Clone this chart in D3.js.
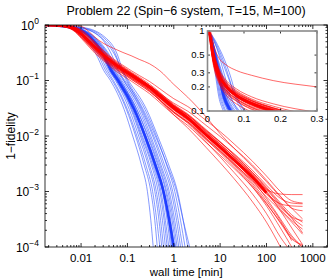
<!DOCTYPE html>
<html lang="en">
<head>
  <meta charset="UTF-8">
  <title>Problem 22</title>
  <script src="https://cdn.jsdelivr.net/npm/d3@7"></script>
  <style>
    body { margin: 0; background: #fff; }
    text { font-family: "Liberation Sans", Arial, sans-serif; fill: #000; }
  </style>
</head>
<body>
  <svg id="chart"></svg>
<script>
  const width = 332, height = 278;

  // axis ticks
  const xTicks = [0.01, 0.1, 1, 10, 100, 1000];
  const xTickLabels = ['0.01', '0.1', '1', '10', '100', '1000'];
  const yTicks = [1, 0.1, 0.01, 0.001, 0.0001];
  const yTickExp = ['0', '\u22121', '\u22122', '\u22123', '\u22124'];
  const insetXTicks = [0, 0.1, 0.2, 0.3];
  const insetYTicks = [0.1, 0.2, 0.3, 0.5, 1];

  // blue runs: wall time [min] at which each run reaches these 1-fidelity levels
  const blueLevels = [1, 0.9, 0.6, 0.3, 0.15, 0.1, 0.03, 0.01, 0.003, 0.001, 3e-4, 1e-4];
  const blueMedian = [0.0017, 0.0065, 0.016, 0.03, 0.045, 0.063, 0.14, 0.24, 0.4, 0.6, 0.8, 1.0];
  const blueRuns = [
    [0.0017, 0.005, 0.011, 0.021, 0.031, 0.043, 0.085, 0.13, 0.2, 0.27, 0.32, 0.36],
    [0.0017, 0.0055, 0.012, 0.023, 0.034, 0.047, 0.095, 0.15, 0.23, 0.32, 0.39, 0.44],
    [0.0017, 0.006, 0.014, 0.025, 0.037, 0.05, 0.1, 0.16, 0.25, 0.35, 0.43, 0.5],
    [0.0017, 0.0058, 0.013, 0.027, 0.04, 0.055, 0.11, 0.175, 0.28, 0.39, 0.48, 0.55],
    [0.0017, 0.007, 0.017, 0.03, 0.043, 0.058, 0.12, 0.19, 0.3, 0.42, 0.52, 0.6],
    [0.0017, 0.006, 0.015, 0.028, 0.042, 0.058, 0.125, 0.2, 0.33, 0.46, 0.57, 0.66],
    [0.0017, 0.0065, 0.016, 0.031, 0.046, 0.062, 0.13, 0.21, 0.35, 0.5, 0.62, 0.72],
    [0.0017, 0.007, 0.018, 0.034, 0.05, 0.066, 0.14, 0.225, 0.37, 0.53, 0.66, 0.78],
    [0.0017, 0.0062, 0.015, 0.029, 0.044, 0.062, 0.14, 0.235, 0.39, 0.57, 0.72, 0.85],
    [0.0017, 0.0068, 0.017, 0.032, 0.048, 0.066, 0.15, 0.25, 0.42, 0.62, 0.8, 0.93],
    [0.0017, 0.0075, 0.019, 0.036, 0.053, 0.072, 0.16, 0.27, 0.45, 0.67, 0.86, 1.02],
    [0.0017, 0.0064, 0.016, 0.031, 0.048, 0.068, 0.16, 0.28, 0.47, 0.7, 0.92, 1.1],
    [0.0017, 0.007, 0.018, 0.035, 0.054, 0.076, 0.175, 0.3, 0.5, 0.75, 0.98, 1.18],
    [0.0017, 0.009, 0.026, 0.045, 0.064, 0.084, 0.19, 0.32, 0.53, 0.8, 1.05, 1.28],
    [0.0017, 0.0072, 0.019, 0.038, 0.058, 0.082, 0.2, 0.35, 0.58, 0.88, 1.15, 1.4],
    [0.0017, 0.01, 0.03, 0.055, 0.075, 0.095, 0.21, 0.37, 0.63, 0.95, 1.25, 1.55],
    [0.0017, 0.011, 0.033, 0.06, 0.08, 0.1, 0.24, 0.42, 0.7, 1.05, 1.4, 1.75],
    [0.0017, 0.009, 0.027, 0.052, 0.078, 0.105, 0.26, 0.45, 0.78, 1.2, 1.6, 2.0],
    [0.0017, 0.0078, 0.02, 0.04, 0.062, 0.088, 0.22, 0.4, 0.72, 1.15, 1.6, 2.2],
    [0.0017, 0.0066, 0.017, 0.033, 0.05, 0.07, 0.15, 0.245, 0.4, 0.58, 0.76, 0.9]
  ];

  // red runs: 1-fidelity sampled at these wall times [min]
  const redTimes = [0.0017, 0.004, 0.007, 0.01, 0.015, 0.02, 0.03, 0.05, 0.08, 0.12, 0.18, 0.3,
    0.5, 1, 2, 5, 10, 20, 50, 100, 200, 350, 600];
  const redMedian = [1.0, 0.97, 0.86, 0.7, 0.5, 0.4, 0.29, 0.205, 0.155, 0.125, 0.1, 0.075,
    0.052, 0.032, 0.021, 0.0105, 0.0063, 0.0037, 0.0018, 0.00095];
  const redRuns = [
    [1.0, 0.99, 0.98, 0.95, 0.75, 0.6, 0.47, 0.38, 0.32, 0.28, 0.24, 0.2, 0.15, 0.085, 0.05, 0.022, 0.011, 0.006, 0.0028, 0.0015, 0.0008, 0.0005, 0.00032],
    [1.0, 0.96, 0.82, 0.64, 0.45, 0.36, 0.26, 0.185, 0.141, 0.111, 0.089, 0.066, 0.045, 0.027, 0.018, 0.0088, 0.005, 0.0028, 0.0012, 0.00055, 0.00022, 0.0001],
    [1.0, 0.95, 0.8, 0.6, 0.42, 0.33, 0.24, 0.17, 0.132, 0.105, 0.085, 0.063, 0.044, 0.026, 0.0175, 0.0085, 0.0052, 0.0031, 0.0016, 0.0009, 0.0006, 0.00055, 0.00054],
    [1.0, 0.98, 0.9, 0.78, 0.58, 0.46, 0.33, 0.23, 0.174, 0.138, 0.11, 0.081, 0.059, 0.036, 0.024, 0.012, 0.0072, 0.0042, 0.002, 0.001, 0.00045, 0.00022, 0.00011],
    [1.0, 0.96, 0.84, 0.66, 0.47, 0.37, 0.27, 0.195, 0.15, 0.12, 0.095, 0.071, 0.048, 0.027, 0.017, 0.0078, 0.0042, 0.0022, 0.0009, 0.0004, 0.00015, 0.00008],
    [1.0, 0.97, 0.88, 0.72, 0.52, 0.42, 0.3, 0.215, 0.165, 0.134, 0.107, 0.081, 0.057, 0.035, 0.024, 0.0125, 0.0078, 0.0048, 0.0024, 0.0013, 0.00075, 0.00062, 0.0006],
    [1.0, 0.94, 0.78, 0.58, 0.4, 0.31, 0.23, 0.16, 0.122, 0.098, 0.078, 0.058, 0.04, 0.024, 0.0155, 0.0076, 0.0045, 0.0026, 0.0012, 0.0006, 0.00028, 0.00015, 0.0001],
    [1.0, 0.98, 0.92, 0.8, 0.6, 0.47, 0.34, 0.235, 0.179, 0.142, 0.115, 0.086, 0.061, 0.037, 0.025, 0.013, 0.0079, 0.0046, 0.0022, 0.00115, 0.00058, 0.00035, 0.0003],
    [1.0, 0.96, 0.85, 0.68, 0.49, 0.39, 0.28, 0.2, 0.15, 0.12, 0.097, 0.073, 0.05, 0.031, 0.02, 0.0098, 0.0057, 0.0032, 0.0014, 0.00068, 0.0003, 0.00013],
    [1.0, 0.97, 0.87, 0.71, 0.51, 0.41, 0.3, 0.21, 0.16, 0.129, 0.104, 0.079, 0.056, 0.035, 0.023, 0.0118, 0.0071, 0.0043, 0.0021, 0.0011, 0.00055, 0.00034, 0.00024],
    [1.0, 0.95, 0.81, 0.62, 0.44, 0.35, 0.25, 0.18, 0.139, 0.111, 0.09, 0.068, 0.048, 0.03, 0.02, 0.01, 0.0062, 0.0037, 0.0018, 0.00098, 0.00052, 0.00033, 0.00018],
    [1.0, 0.98, 0.89, 0.74, 0.54, 0.43, 0.31, 0.22, 0.169, 0.135, 0.109, 0.081, 0.057, 0.035, 0.022, 0.0108, 0.0063, 0.0035, 0.0016, 0.00075, 0.00032, 0.00016, 0.0001],
    [1.0, 0.97, 0.86, 0.69, 0.5, 0.4, 0.29, 0.205, 0.156, 0.125, 0.102, 0.077, 0.055, 0.034, 0.0225, 0.0115, 0.007, 0.0042, 0.002, 0.0011, 0.0009, 0.00088, 0.00088],
    [1.0, 0.96, 0.83, 0.65, 0.46, 0.36, 0.26, 0.185, 0.143, 0.114, 0.092, 0.067, 0.044, 0.024, 0.014, 0.0062, 0.0033, 0.0017, 0.00065, 0.00028, 0.0001],
    [1.0, 0.98, 0.9, 0.76, 0.56, 0.45, 0.32, 0.225, 0.169, 0.135, 0.109, 0.081, 0.059, 0.039, 0.028, 0.0155, 0.0098, 0.006, 0.003, 0.0016, 0.00082, 0.0005, 0.00045],
    [1.0, 0.97, 0.87, 0.7, 0.5, 0.4, 0.29, 0.205, 0.155, 0.123, 0.098, 0.073, 0.05, 0.029, 0.019, 0.0092, 0.0054, 0.003, 0.0013, 0.00062, 0.00027, 0.00014, 0.00011],
    [1.0, 0.99, 0.93, 0.82, 0.62, 0.49, 0.35, 0.245, 0.188, 0.151, 0.123, 0.096, 0.071, 0.047, 0.034, 0.019, 0.012, 0.0072, 0.0035, 0.0019, 0.001, 0.00068, 0.00062],
    [1.0, 0.95, 0.8, 0.61, 0.43, 0.34, 0.25, 0.175, 0.134, 0.107, 0.085, 0.064, 0.044, 0.027, 0.018, 0.009, 0.0054, 0.0032, 0.0015, 0.0008, 0.00045, 0.00028, 0.00017],
    [1.0, 0.97, 0.88, 0.73, 0.53, 0.42, 0.305, 0.215, 0.162, 0.13, 0.105, 0.079, 0.057, 0.035, 0.024, 0.0125, 0.0077, 0.0046, 0.0022, 0.0012, 0.00062, 0.00038, 0.00028],
    [1.0, 0.96, 0.84, 0.67, 0.48, 0.38, 0.275, 0.195, 0.149, 0.118, 0.095, 0.071, 0.05, 0.03, 0.02, 0.01, 0.006, 0.0035, 0.0017, 0.00092, 0.00048, 0.0003, 0.00021]
  ];

  const blueColor = '#3355ff', redColor = '#ff0000';

  // turn the arrays into [time, value] point lists
  const bluePts = blueRuns.map(r => r.map((t, i) => [t, blueLevels[i]]));
  const blueMedPts = blueMedian.map((t, i) => [t, blueLevels[i]]);
  const redPts = redRuns.map(r => r.map((v, i) => [redTimes[i], v]));
  const redMedPts = redMedian.map((v, i) => [redTimes[i], v]);

  const svg = d3.select('#chart').attr('width', width).attr('height', height);
  const defs = svg.append('defs');

  const m = { left: 45, right: 327.5, top: 25, bottom: 247 };
  const x = d3.scaleLog().domain([1 / 600, 2070]).range([m.left, m.right]);
  const y = d3.scaleLog().domain([1e-4, 1]).range([m.bottom, m.top]);

  defs.append('clipPath').attr('id', 'clipMain').append('rect')
    .attr('x', m.left).attr('y', m.top)
    .attr('width', m.right - m.left).attr('height', m.bottom - m.top);

  function drawRuns(g, sx, sy, lo) {
    const line = d3.line()
      .x(d => sx(d[0]))
      .y(d => sy(Math.max(d[1], lo)))
      .curve(d3.curveMonotoneX);
    g.selectAll('path.blue').data(bluePts).join('path')
      .attr('class', 'blue').attr('d', line)
      .attr('fill', 'none').attr('stroke', blueColor)
      .attr('stroke-width', 0.7).attr('stroke-opacity', 0.85);
    g.append('path').datum(blueMedPts).attr('d', line)
      .attr('fill', 'none').attr('stroke', '#1f3dff').attr('stroke-width', 2.6);
    g.selectAll('path.red').data(redPts).join('path')
      .attr('class', 'red').attr('d', line)
      .attr('fill', 'none').attr('stroke', redColor)
      .attr('stroke-width', 0.7).attr('stroke-opacity', 0.85);
    g.append('path').datum(redMedPts).attr('d', line)
      .attr('fill', 'none').attr('stroke', redColor).attr('stroke-width', 3);
  }

  drawRuns(svg.append('g').attr('clip-path', 'url(#clipMain)'), x, y, 1e-5);

  // main frame and ticks (inside, MATLAB style)
  const axes = svg.append('g').attr('stroke', '#000').attr('stroke-width', 0.8);
  axes.append('rect')
    .attr('x', m.left).attr('y', m.top)
    .attr('width', m.right - m.left).attr('height', m.bottom - m.top)
    .attr('fill', 'none');

  const xMinor = [];
  for (let d = -3; d <= 3; d++) for (let k = 1; k <= 9; k++) {
    const v = k * Math.pow(10, d);
    if (v >= x.domain()[0] && v <= x.domain()[1]) xMinor.push({ v, major: k === 1 });
  }
  xMinor.forEach(t => {
    const px = x(t.v), len = t.major ? 4 : 2;
    axes.append('line').attr('x1', px).attr('x2', px).attr('y1', m.bottom).attr('y2', m.bottom - len);
    axes.append('line').attr('x1', px).attr('x2', px).attr('y1', m.top).attr('y2', m.top + len);
  });
  const yMinor = [];
  for (let d = -4; d <= 0; d++) for (let k = 1; k <= 9; k++) {
    const v = k * Math.pow(10, d);
    if (v >= 1e-4 && v <= 1) yMinor.push({ v, major: k === 1 });
  }
  yMinor.forEach(t => {
    const py = y(t.v), len = t.major ? 4 : 2;
    axes.append('line').attr('y1', py).attr('y2', py).attr('x1', m.left).attr('x2', m.left + len);
    axes.append('line').attr('y1', py).attr('y2', py).attr('x1', m.right).attr('x2', m.right - len);
  });

  svg.append('g').selectAll('text').data(xTicks).join('text')
    .attr('x', d => x(d)).attr('y', 261.5)
    .attr('text-anchor', 'middle').attr('font-size', 11.5)
    .text((d, i) => xTickLabels[i]);

  const yl = svg.append('g').selectAll('text').data(yTicks).join('text')
    .attr('x', 39).attr('y', d => y(d) + 4.5)
    .attr('text-anchor', 'end').attr('font-size', 12);
  yl.append('tspan').text('10');
  yl.append('tspan').attr('dy', -6).attr('font-size', 8.5).text((d, i) => yTickExp[i]);

  svg.append('text').attr('x', (m.left + m.right) / 2).attr('y', 275.5)
    .attr('text-anchor', 'middle').attr('font-size', 11.5).text('wall time [min]');
  svg.append('text').attr('transform', `translate(15,${(m.top + m.bottom) / 2}) rotate(-90)`)
    .attr('text-anchor', 'middle').attr('font-size', 12).text('1\u2212fidelity');
  svg.append('text').attr('x', 186).attr('y', 15)
    .attr('text-anchor', 'middle').attr('font-size', 12.5)
    .text('Problem 22 (Spin\u22126 system, T=15, M=100)');

  // inset: linear time, log fidelity
  const ib = { left: 207.5, right: 317, top: 31, bottom: 111 };
  const xi = d3.scaleLinear().domain([0, 0.3]).range([ib.left, ib.right]);
  const yi = d3.scaleLog().domain([0.1, 1]).range([ib.bottom, ib.top]);

  svg.append('rect').attr('x', ib.left).attr('y', ib.top)
    .attr('width', ib.right - ib.left).attr('height', ib.bottom - ib.top)
    .attr('fill', '#fff');
  defs.append('clipPath').attr('id', 'clipInset').append('rect')
    .attr('x', ib.left).attr('y', ib.top)
    .attr('width', ib.right - ib.left).attr('height', ib.bottom - ib.top);
  drawRuns(svg.append('g').attr('clip-path', 'url(#clipInset)'), xi, yi, 0.01);

  const ia = svg.append('g').attr('stroke', '#000').attr('stroke-width', 0.8);
  insetXTicks.forEach(v => {
    ia.append('line').attr('x1', xi(v)).attr('x2', xi(v)).attr('y1', ib.bottom).attr('y2', ib.bottom - 2.5);
    ia.append('line').attr('x1', xi(v)).attr('x2', xi(v)).attr('y1', ib.top).attr('y2', ib.top + 2.5);
  });
  insetYTicks.forEach(v => {
    ia.append('line').attr('y1', yi(v)).attr('y2', yi(v)).attr('x1', ib.left).attr('x2', ib.left + 2.5);
    ia.append('line').attr('y1', yi(v)).attr('y2', yi(v)).attr('x1', ib.right).attr('x2', ib.right - 2.5);
  });
  svg.append('rect').attr('x', ib.left).attr('y', ib.top)
    .attr('width', ib.right - ib.left).attr('height', ib.bottom - ib.top)
    .attr('fill', 'none').attr('stroke', '#8a8a8a').attr('stroke-width', 1.6);

  svg.append('g').selectAll('text').data(insetXTicks).join('text')
    .attr('x', d => xi(d)).attr('y', 122)
    .attr('text-anchor', 'middle').attr('font-size', 9.5)
    .text(d => d3.format('~g')(d));
  svg.append('g').selectAll('text').data(insetYTicks).join('text')
    .attr('x', 204.5).attr('y', d => yi(d) + 3.3)
    .attr('text-anchor', 'end').attr('font-size', 9.5)
    .text(d => d3.format('~g')(d));
</script>
</body>
</html>
